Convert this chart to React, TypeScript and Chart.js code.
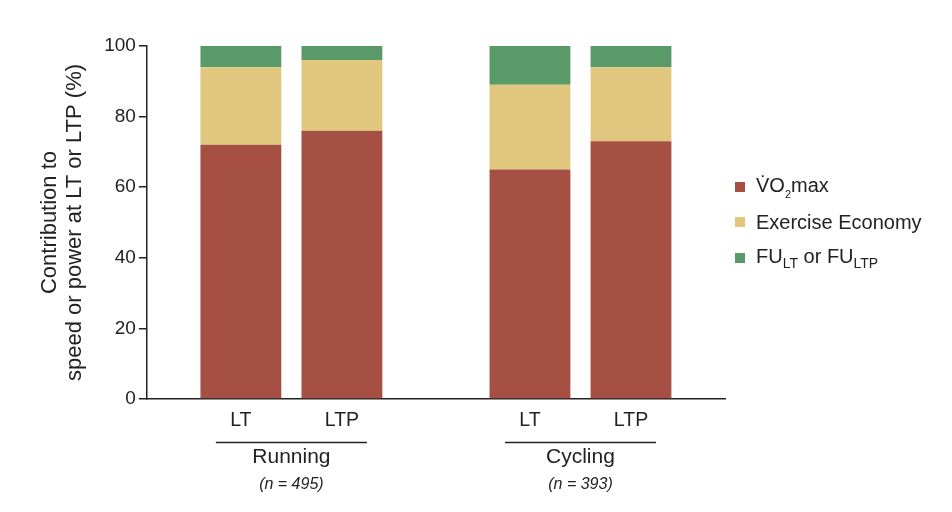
import { useEffect, useRef } from 'react'
import { Chart, registerables } from 'chart.js'

Chart.register(...registerables)

// sports and sample sizes
const groups = ['Running', 'Cycling']
const groupSizes = ['(n = 495)', '(n = 393)']
const thresholds = ['LT', 'LTP']

// contribution (%) per sport, one array per component and threshold
const vo2maxLT = [72, 65]
const vo2maxLTP = [76, 73]
const economyLT = [22, 24]
const economyLTP = [20, 21]
const fuLT = [6, 11]
const fuLTP = [4, 6]

const yTicks = [0, 20, 40, 60, 80, 100]

const RED = '#a64f43'
const YELLOW = '#e0c77d'
const GREEN = '#5a9a68'
const INK = '#222222'
const FONT = "'Liberation Sans', Arial, Helvetica, sans-serif"

const groupLabels = {
  id: 'groupLabels',
  afterDraw(chart: Chart) {
    const { ctx, chartArea } = chart
    const base = chartArea.bottom
    ctx.save()
    ctx.fillStyle = INK
    ctx.strokeStyle = INK
    ctx.textAlign = 'center'
    ctx.textBaseline = 'middle'
    groups.forEach((g, i) => {
      const xs = [chart.getDatasetMeta(0).data[i].x, chart.getDatasetMeta(3).data[i].x]
      ctx.font = `19.5px ${FONT}`
      xs.forEach((x, j) => ctx.fillText(thresholds[j], x, base + 21.5))
      ctx.lineWidth = 1.5
      ctx.beginPath()
      ctx.moveTo(xs[0] - 25, base + 43.5)
      ctx.lineTo(xs[1] + 25, base + 43.5)
      ctx.stroke()
      const mid = (xs[0] + xs[1]) / 2
      ctx.font = `21px ${FONT}`
      ctx.fillText(g, mid, base + 58)
      ctx.font = `italic 16px ${FONT}`
      ctx.fillText(groupSizes[i], mid, base + 86)
    })
    ctx.restore()
  },
}

export default function App() {
  const canvasRef = useRef<HTMLCanvasElement>(null)

  useEffect(() => {
    if (!canvasRef.current) return
    const chart = new Chart(canvasRef.current, {
      type: 'bar',
      data: {
        labels: groups,
        datasets: [
          { label: 'VO2max', data: vo2maxLT, backgroundColor: RED, stack: 'LT' },
          { label: 'Exercise Economy', data: economyLT, backgroundColor: YELLOW, stack: 'LT' },
          { label: 'FU', data: fuLT, backgroundColor: GREEN, stack: 'LT' },
          { label: 'VO2max', data: vo2maxLTP, backgroundColor: RED, stack: 'LTP' },
          { label: 'Exercise Economy', data: economyLTP, backgroundColor: YELLOW, stack: 'LTP' },
          { label: 'FU', data: fuLTP, backgroundColor: GREEN, stack: 'LTP' },
        ],
      },
      options: {
        animation: false,
        responsive: true,
        maintainAspectRatio: false,
        categoryPercentage: 0.699,
        barPercentage: 0.8,
        layout: { padding: { left: 29, right: 219, top: 38, bottom: 97 } },
        plugins: { legend: { display: false }, tooltip: { enabled: false } },
        scales: {
          x: {
            stacked: true,
            grid: { display: false },
            ticks: { display: false },
            border: { display: true, color: INK, width: 1.5 },
          },
          y: {
            stacked: true,
            min: 0,
            max: 100,
            afterBuildTicks: (s) => {
              s.ticks = yTicks.map((v) => ({ value: v }))
            },
            ticks: { color: INK, padding: 3, font: { family: FONT, size: 19 } },
            grid: { display: true, drawOnChartArea: false, drawTicks: true, tickLength: 8, color: INK, lineWidth: 1.5 },
            border: { display: true, color: INK, width: 1.5 },
            title: {
              display: true,
              text: ['Contribution to', 'speed or power at LT or LTP (%)'],
              color: INK,
              font: { family: FONT, size: 22, lineHeight: 1.14 },
              padding: { top: 0, bottom: 14 },
            },
          },
        },
      },
      plugins: [groupLabels],
    })
    return () => chart.destroy()
  }, [])

  const legendRow = { display: 'flex', alignItems: 'center', height: 35.5 } as const
  const box = (c: string) => ({ width: 10, height: 10, background: c, marginRight: 11 })

  return (
    <div style={{ position: 'relative', width: 936, height: 496, fontFamily: FONT }}>
      <canvas ref={canvasRef} />
      <div style={{ position: 'absolute', left: 727, top: 161, fontSize: 20, color: INK }}>
        <div style={legendRow}>
          <div style={box(RED)} />
          <span>
            {'V\u0307'}O<sub style={{ fontSize: 11, verticalAlign: -6 }}>2</sub>max
          </span>
        </div>
        <div style={legendRow}>
          <div style={box(YELLOW)} />
          <span>Exercise Economy</span>
        </div>
        <div style={legendRow}>
          <div style={box(GREEN)} />
          <span>
            FU<sub style={{ fontSize: 14 }}>LT</sub> or FU<sub style={{ fontSize: 14 }}>LTP</sub>
          </span>
        </div>
      </div>
    </div>
  )
}
